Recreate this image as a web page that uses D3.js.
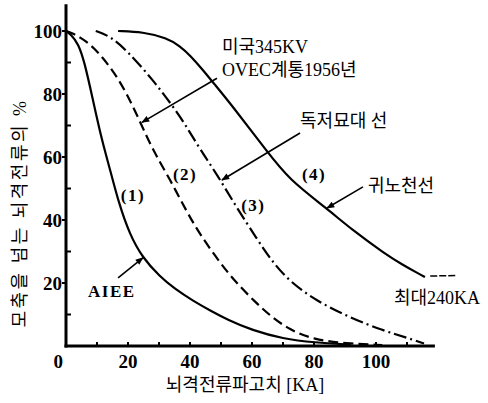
<!DOCTYPE html>
<html>
<head>
<meta charset="utf-8">
<script src="https://cdn.jsdelivr.net/npm/d3@7"></script>
<style>
  body { margin: 0; background: #fff; }
  .kr { font-family: "Liberation Serif", "Noto Sans CJK KR", serif; font-size: 18px; fill: #000; }
  .bold { font-family: "Liberation Serif", serif; font-weight: bold; fill: #000; }
</style>
</head>
<body>
<svg id="chart" width="488" height="403"></svg>
<script>
// curves: [current KA, % exceeding]
var curve1 = [[0,100],[1.5,99],[4,96],[6,90],[8.5,79],[11.5,65.5],[14.5,55],[17,45.5],[20.5,35.5],[24.7,28],[30.3,22],[35,18.2],[41,14.3],[47,11],[52,8.4],[60,5],[70,2.3],[80,1.1],[92,0.4]];
var curve2 = [[0,100],[1.5,99.6],[4.5,98],[8.7,95.2],[15,87.8],[19.7,80],[23.9,71.2],[28.1,62],[33.5,53],[39,42.5],[43.5,35],[50,26],[55,20],[61,14],[66,9.5],[72,5.2],[80,2],[90,0.8],[102,0.3]];
var curve3 = [[9.6,100],[14,98.5],[19.7,93.8],[28,84.5],[34.2,76.5],[39,69.5],[43.2,62.5],[48.7,54.5],[55,44],[61.6,34],[66,27.5],[72,20.5],[81,14.2],[91.6,9],[102,5],[111,2.3],[115.5,0.8]];
var curve4 = [[16.8,100],[24.8,99.7],[32.5,97.8],[36.8,95.2],[40,92.3],[44.2,87.6],[47.5,83.6],[54,75.8],[64.8,61.8],[72,52.8],[84.2,43.6],[92.5,36.7],[103,29.2],[108.4,25.9],[113.7,23],[115.8,21.9]];
var curve4tail = [[117.5,22.2],[126,22.4]];

var xTicks = [0, 20, 40, 60, 80, 100];
var xMinor = [10, 30, 50, 70, 90, 110];
var yTicks = [20, 40, 60, 80, 100];
var yMinor = [10, 30, 50, 70, 90];

var svg = d3.select("#chart");

var x = d3.scaleLinear().domain([0, 100]).range([66, 376]);
var y = d3.scaleLinear().domain([0, 100]).range([346, 31]);

// arrow head
svg.append("defs").append("marker")
    .attr("id", "head")
    .attr("markerUnits", "userSpaceOnUse")
    .attr("viewBox", "0 0 10 10")
    .attr("refX", 9).attr("refY", 5)
    .attr("markerWidth", 10).attr("markerHeight", 8)
    .attr("orient", "auto")
    .append("path")
    .attr("d", "M0,1 L10,5 L0,9 Z")
    .attr("fill", "#000");

// axes
svg.append("line")
    .attr("x1", x(0)).attr("x2", x(0))
    .attr("y1", y(108.5)).attr("y2", y(0) + 1.5)
    .attr("stroke", "#000").attr("stroke-width", 3);
svg.append("line")
    .attr("x1", x(0) - 1.5).attr("x2", x(119))
    .attr("y1", y(0)).attr("y2", y(0))
    .attr("stroke", "#000").attr("stroke-width", 3);

// y ticks
svg.selectAll(".ytick")
    .data(yTicks)
    .enter().append("line")
    .attr("x1", x(0) - 4).attr("x2", x(0))
    .attr("y1", function(d) { return y(d); })
    .attr("y2", function(d) { return y(d); })
    .attr("stroke", "#000").attr("stroke-width", 2);
svg.selectAll(".yminor")
    .data(yMinor)
    .enter().append("line")
    .attr("x1", x(0)).attr("x2", x(0) + 5)
    .attr("y1", function(d) { return y(d); })
    .attr("y2", function(d) { return y(d); })
    .attr("stroke", "#000").attr("stroke-width", 2);

svg.selectAll(".ylabel")
    .data(yTicks)
    .enter().append("text")
    .attr("class", "bold")
    .attr("font-size", 19)
    .attr("text-anchor", "end")
    .attr("x", x(0) - 4)
    .attr("y", function(d) { return y(d); })
    .attr("dy", "0.36em")
    .text(function(d) { return d; });

// x ticks
svg.selectAll(".xtick")
    .data(xTicks.concat(xMinor))
    .enter().append("line")
    .attr("x1", function(d) { return x(d); })
    .attr("x2", function(d) { return x(d); })
    .attr("y1", y(0)).attr("y2", y(0) - 4)
    .attr("stroke", "#000").attr("stroke-width", 2);

svg.selectAll(".xlabel")
    .data(xTicks)
    .enter().append("text")
    .attr("class", "bold")
    .attr("font-size", 19)
    .attr("text-anchor", function(d) { return d == 0 ? "end" : "middle"; })
    .attr("x", function(d) { return d == 0 ? x(0) - 3 : x(d); })
    .attr("y", 368)
    .text(function(d) { return d; });

// axis titles
svg.append("text")
    .attr("class", "kr")
    .attr("text-anchor", "middle")
    .attr("x", 245).attr("y", 391)
    .text("뇌격전류파고치 [KA]");

svg.append("text")
    .attr("class", "kr")
    .attr("text-anchor", "middle")
    .attr("letter-spacing", 2.5)
    .attr("transform", "translate(26,213) rotate(-90)")
    .text("모축을 넘는 뇌격전류의 %");

// curves
var line = d3.line()
    .x(function(d) { return x(d[0]); })
    .y(function(d) { return y(d[1]); })
    .curve(d3.curveBasis);

var curves = [
    {pts: curve1, dash: null},
    {pts: curve2, dash: "10,5"},
    {pts: curve3, dash: "13,4,2,4"},
    {pts: curve4, dash: null}
];

svg.selectAll(".curve")
    .data(curves)
    .enter().append("path")
    .attr("class", "curve")
    .attr("d", function(d) { return line(d.pts); })
    .attr("fill", "none")
    .attr("stroke", "#000")
    .attr("stroke-width", 2.2)
    .attr("stroke-dasharray", function(d) { return d.dash; });

svg.append("path")
    .attr("d", line(curve4tail))
    .attr("fill", "none")
    .attr("stroke", "#000")
    .attr("stroke-width", 1.5)
    .attr("stroke-dasharray", "7,2");

// labels on the curves
var tags = [
    {t: "(1)", x: 17.7, y: 46},
    {t: "(2)", x: 34.5, y: 52.7},
    {t: "(3)", x: 56.5, y: 42.9},
    {t: "(4)", x: 76.1, y: 52.7},
    {t: "AIEE", x: 7.1, y: 15.6}
];
svg.selectAll(".tag")
    .data(tags)
    .enter().append("text")
    .attr("class", "bold")
    .attr("font-size", 17)
    .attr("letter-spacing", 1.5)
    .attr("x", function(d) { return x(d.x); })
    .attr("y", function(d) { return y(d.y); })
    .text(function(d) { return d.t; });

// notes
var notes = [
    {t: "미국345KV", x: 50.3, y: 93},
    {t: "OVEC계통1956년", x: 50.3, y: 85.7},
    {t: "독저묘대  선", x: 75.5, y: 69.5},
    {t: "귀노천선", x: 97.4, y: 48.9},
    {t: "최대240KA", x: 105.8, y: 13.3}
];
svg.selectAll(".note")
    .data(notes)
    .enter().append("text")
    .attr("class", "kr")
    .attr("x", function(d) { return x(d.x); })
    .attr("y", function(d) { return y(d.y); })
    .text(function(d) { return d.t; });

// arrows from notes to curves
var arrows = [
    [[48.7, 85], [24.5, 71]],
    [[75.5, 67.6], [50.3, 52.7]],
    [[95.8, 50.5], [84.2, 43.8]],
    [[16.8, 21.6], [24.8, 28]]
];
svg.selectAll(".arrow")
    .data(arrows)
    .enter().append("line")
    .attr("x1", function(d) { return x(d[0][0]); })
    .attr("y1", function(d) { return y(d[0][1]); })
    .attr("x2", function(d) { return x(d[1][0]); })
    .attr("y2", function(d) { return y(d[1][1]); })
    .attr("stroke", "#000")
    .attr("stroke-width", 1.6)
    .attr("marker-end", "url(#head)");
</script>
</body>
</html>
